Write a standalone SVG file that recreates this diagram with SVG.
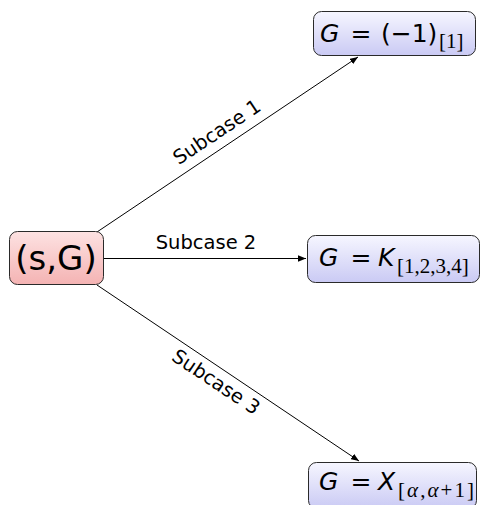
<svg xmlns="http://www.w3.org/2000/svg" width="481" height="505" viewBox="0 0 481 505">
<defs>
<linearGradient id="gRed" x1="0" y1="0" x2="0" y2="1">
<stop offset="0" stop-color="#fde2e2"/>
<stop offset="1" stop-color="#f4b3b3"/>
</linearGradient>
<linearGradient id="gBlue" x1="0" y1="0" x2="0" y2="1">
<stop offset="0" stop-color="#f6f6ff"/>
<stop offset="1" stop-color="#cacaf4"/>
</linearGradient>
<marker id="arr" viewBox="0 0 10 8" refX="10" refY="4" markerWidth="8" markerHeight="6.4" markerUnits="userSpaceOnUse" orient="auto">
<path d="M0,0 L10,4 L0,8 Z" fill="#000"/>
</marker>
<style>
.box{stroke:#2a2a2a;stroke-width:1}
.red{fill:url(#gRed)}
.blue{fill:url(#gBlue)}
.edge{stroke:#000;stroke-width:1;fill:none;marker-end:url(#arr)}
.lbl{font-family:"DejaVu Sans",sans-serif;font-size:19.5px;fill:#000}
.nt{font-family:"DejaVu Sans",sans-serif;font-size:25px;fill:#000}
.it{font-style:italic}
.sub{font-family:"Liberation Serif","DejaVu Serif",serif;font-size:21px;fill:#000}
</style>
</defs>
<g id="connectors">
<line class="edge" x1="97" y1="232" x2="358" y2="57"/>
<line class="edge" x1="103" y1="258.5" x2="306" y2="258.5"/>
<line class="edge" x1="97" y1="285" x2="359" y2="461"/>
<text class="lbl" text-anchor="middle" dominant-baseline="central" transform="translate(217,132) rotate(-33.7)">Subcase 1</text>
<text class="lbl" text-anchor="middle" x="206" y="249">Subcase 2</text>
<text class="lbl" text-anchor="middle" dominant-baseline="central" transform="translate(216,382) rotate(33.7)">Subcase 3</text>
</g>
<g id="source">
<rect class="box red" x="9.5" y="231.5" width="94" height="53" rx="8"/>
<text x="56" y="270" text-anchor="middle" font-family="DejaVu Sans, sans-serif" font-size="34">(s,G)</text>
</g>
<g id="case1">
<rect class="box blue" x="313.5" y="11.5" width="162" height="44" rx="8"/>
<text class="nt it" x="320" y="42">G</text>
<text class="nt" x="361" y="42" text-anchor="middle">=</text>
<text class="nt" x="381" y="42">(−1)</text>
<text class="sub" x="439" y="48">[1]</text>
</g>
<g id="case2">
<rect class="box blue" x="307.5" y="235.5" width="172" height="47" rx="8"/>
<text class="nt it" x="319" y="266">G</text>
<text class="nt" x="361" y="266" text-anchor="middle">=</text>
<text class="nt it" x="378" y="266">K</text>
<text class="sub" x="397" y="273">[1,2,3,4]</text>
</g>
<g id="case3">
<rect class="box blue" x="308.5" y="462.5" width="168" height="46" rx="8"/>
<text class="nt it" x="319" y="490">G</text>
<text class="nt" x="361" y="490" text-anchor="middle">=</text>
<text class="nt it" x="378" y="490">X</text>
<text class="sub" x="398" y="497" textLength="76" lengthAdjust="spacing">[<tspan font-style="italic">α</tspan>,<tspan font-style="italic">α</tspan>+1]</text>
</g>
</svg>
